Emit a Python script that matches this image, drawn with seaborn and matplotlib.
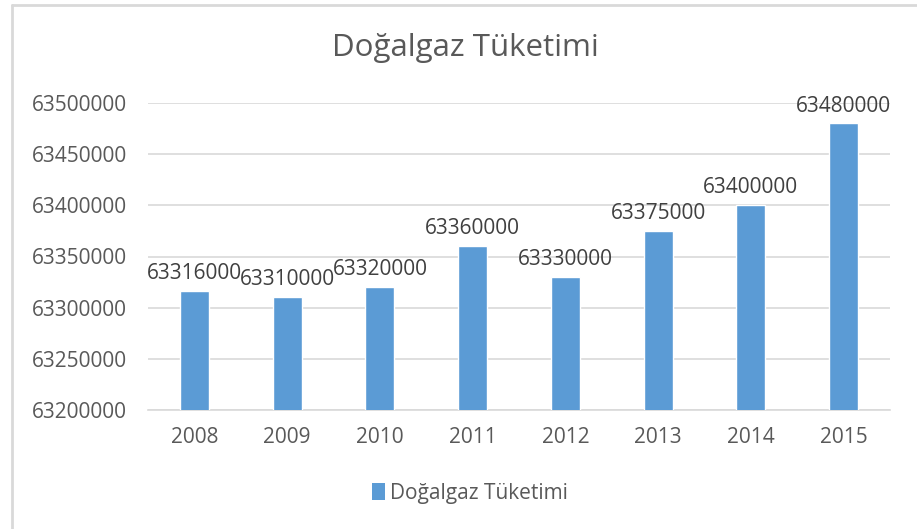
import matplotlib
matplotlib.use("Agg")
import matplotlib.pyplot as plt
import seaborn as sns
import pandas as pd
from matplotlib.patches import Patch
from matplotlib.lines import Line2D

# Data
years = ["2008", "2009", "2010", "2011", "2012", "2013", "2014", "2015"]
consumption = [63316000, 63310000, 63320000, 63360000, 63330000, 63375000, 63400000, 63480000]
series_name = "Doğalgaz Tüketimi"

df = pd.DataFrame({"Yıl": years, "Tüketim": consumption})

sns.set_theme(style="white")
plt.rcParams["font.family"] = ["Open Sans", "DejaVu Sans"]

text_color = "#595959"
bar_color = "#5B9BD5"
grid_color = "#D9D9D9"

fig = plt.figure(figsize=(9.17, 5.29), dpi=100)
ax = fig.add_axes([148 / 917, 1 - 410 / 529, (890 - 148) / 917, (410 - 103) / 529])

sns.barplot(data=df, x="Yıl", y="Tüketim", color=bar_color, width=0.31,
            saturation=1, ax=ax, zorder=3)

ax.set_ylim(63200000, 63500000)
ax.set_xlim(-0.5, len(years) - 0.5)
ax.set_yticks(range(63200000, 63500001, 50000))
ax.yaxis.set_major_formatter(matplotlib.ticker.FuncFormatter(lambda v, p: f"{int(v)}"))
ax.grid(axis="y", color=grid_color, linewidth=1.2, zorder=0)
ax.set_xlabel("")
ax.set_ylabel("")
for s in ["top", "right", "left"]:
    ax.spines[s].set_visible(False)
ax.spines["bottom"].set_color(grid_color)
ax.spines["bottom"].set_linewidth(1.2)
ax.tick_params(axis="both", length=0, labelsize=15, labelcolor=text_color)
ax.tick_params(axis="x", pad=12)
ax.tick_params(axis="y", pad=15)

for i, v in enumerate(consumption):
    ax.annotate(f"{v}", (i, v), xytext=(0, 5), textcoords="offset points",
                ha="center", va="bottom", fontsize=15, color="#404040",
                annotation_clip=False)

fig.text(465 / 917, 1 - 48 / 529, "Doğalgaz Tüketimi", ha="center", va="center",
         fontsize=22.5, color=text_color)

handle = Patch(facecolor=bar_color, edgecolor="none")
fig.legend([handle], [series_name], loc="center", bbox_to_anchor=(470 / 917, 1 - 493 / 529),
           frameon=False, fontsize=15, labelcolor=text_color, handlelength=0.65,
           handleheight=0.85, handletextpad=0.25)

# chart frame (left and top edges visible in the reference)
fig.add_artist(Line2D([12 / 917, 12 / 917], [0, 1 - 5 / 529], color=grid_color, linewidth=2,
                      transform=fig.transFigure))
fig.add_artist(Line2D([12 / 917, 1], [1 - 5 / 529, 1 - 5 / 529], color=grid_color, linewidth=2,
                      transform=fig.transFigure))

fig.savefig("out.png", dpi=100, facecolor="white")
